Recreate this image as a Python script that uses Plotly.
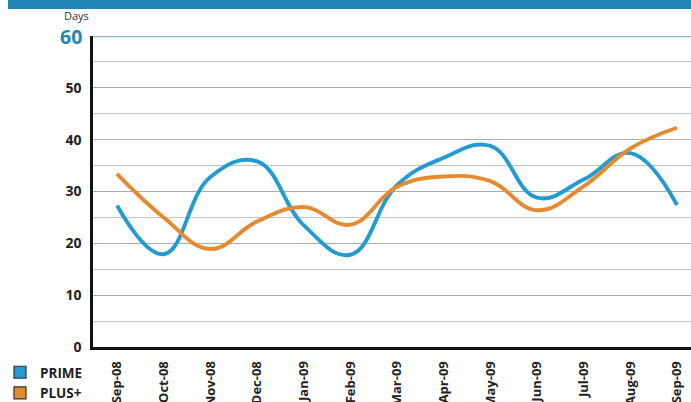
import plotly.graph_objects as go

months = ["Sep-08", "Oct-08", "Nov-08", "Dec-08", "Jan-09", "Feb-09", "Mar-09",
          "Apr-09", "May-09", "Jun-09", "Jul-09", "Aug-09", "Sep-09"]
prime = [27.3, 17.9, 32.8, 35.8, 23.5, 17.8, 31.2, 36.5, 38.8, 28.8, 32.3, 37.4, 27.4]
plus = [33.4, 25.0, 18.9, 24.2, 27.0, 23.6, 30.9, 32.9, 32.0, 26.4, 31.0, 38.3, 42.3]
y_ticks = [0, 10, 20, 30, 40, 50]

BLUE = "#219bd2"
ORANGE = "#e68a2f"
BAR = "#1f86b5"

W, H = 691, 402
ML, MR, MT, MB = 93, 0, 36, 55
PW, PH = W - ML - MR, H - MT - MB

fig = go.Figure()
fig.add_trace(go.Scatter(x=months, y=prime, mode="lines", name="PRIME",
                         line=dict(color=BLUE, width=3.9, shape="spline", smoothing=1.2),
                         showlegend=False))
fig.add_trace(go.Scatter(x=months, y=plus, mode="lines", name="PLUS+",
                         line=dict(color=ORANGE, width=3.9, shape="spline", smoothing=1.2),
                         showlegend=False))
for nm, col in [("PRIME", BLUE), ("PLUS+", ORANGE)]:
    fig.add_trace(go.Scatter(x=[None], y=[None], mode="markers", name=nm,
                             marker=dict(symbol="square", size=12, color=col,
                                         line=dict(color="#333333", width=1.2))))

step = 560 / 12
fig.update_layout(
    width=W, height=H,
    margin=dict(l=ML, r=MR, t=MT, b=MB, autoexpand=False),
    paper_bgcolor="white", plot_bgcolor="white",
    font=dict(family="Open Sans", color="#222222"),
    xaxis=dict(type="category", range=[-24 / step, 12 + 14 / step],
               showgrid=False, showline=True, linecolor="#111111", linewidth=3,
               ticks="", tickangle=-90, ticklabelstandoff=6,
               tickfont=dict(size=13, family="Open Sans", weight="bold", color="#222222"),
               automargin=False, fixedrange=True),
    yaxis=dict(range=[0, 60], tickvals=y_ticks, ticktext=[str(v) for v in y_ticks],
               showgrid=True, gridcolor="#ababab", gridwidth=1.3,
               minor=dict(dtick=5, showgrid=True, gridcolor="#c4c4c4", gridwidth=1.3),
               showline=True, linecolor="#111111", linewidth=2.5, zeroline=False,
               ticks="", ticklabelstandoff=6,
               tickfont=dict(size=14, family="Open Sans", weight="bold", color="#222222"),
               automargin=False, fixedrange=True),
    legend=dict(x=-ML / PW, xanchor="left", y=-10 / PH, yanchor="top",
                font=dict(size=13.5, family="Open Sans", weight="bold", color="#222222"),
                bgcolor="rgba(0,0,0,0)", tracegroupgap=0, itemwidth=30),
    showlegend=True,
)

# 60 gridline (top)
fig.add_shape(type="line", xref="paper", yref="y", x0=0, x1=1, y0=60, y1=60,
              line=dict(color="#8fb0cc", width=2.6), layer="below")
# top banner
fig.add_shape(type="rect", xref="paper", yref="paper",
              x0=(8 - ML) / PW, x1=1, y0=1 + (MT - 9) / PH, y1=1 + MT / PH,
              fillcolor=BAR, line=dict(width=0), layer="above")

fig.add_annotation(text="60", xref="paper", yref="y", x=(84 - ML) / PW, y=60,
                   xanchor="right", yanchor="middle", showarrow=False,
                   font=dict(size=19.5, family="Open Sans", weight="bold", color=BAR))
fig.add_annotation(text="Days", xref="paper", yref="paper", x=(76 - ML) / PW,
                   y=1 + (MT - 16) / PH, xanchor="center", yanchor="middle",
                   showarrow=False, font=dict(size=11, family="Open Sans", color="#333333"))

fig.write_html("out.html")
